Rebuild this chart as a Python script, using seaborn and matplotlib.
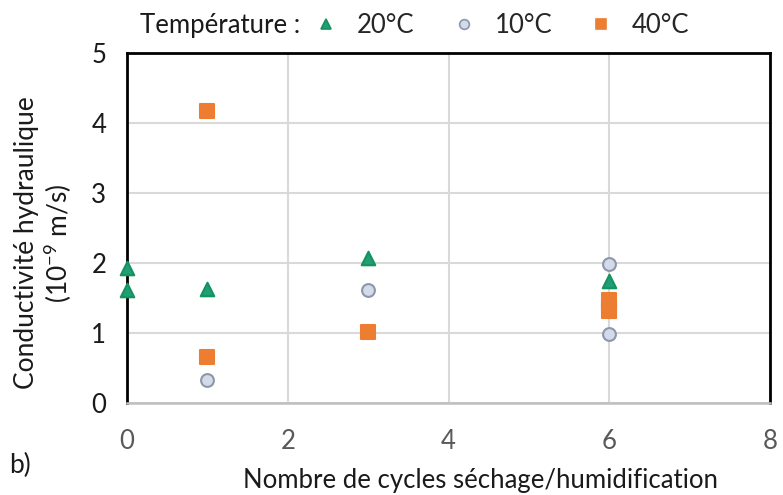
import pandas as pd
import matplotlib.pyplot as plt
import seaborn as sns
from matplotlib.lines import Line2D

# data
cycles_20 = [0, 0, 1, 3, 6]
k_20 = [1.93, 1.62, 1.63, 2.07, 1.74]
cycles_10 = [1, 3, 6, 6]
k_10 = [0.33, 1.61, 1.98, 0.98]
cycles_40 = [1, 1, 3, 6, 6, 6]
k_40 = [4.17, 0.65, 1.02, 1.47, 1.39, 1.31]

df = pd.concat([
    pd.DataFrame({"cycles": cycles_20, "k": k_20, "temp": "20°C"}),
    pd.DataFrame({"cycles": cycles_10, "k": k_10, "temp": "10°C"}),
    pd.DataFrame({"cycles": cycles_40, "k": k_40, "temp": "40°C"}),
])

sns.set_style("white")
plt.rcParams['font.family'] = ['Lato', 'DejaVu Sans']
plt.rcParams['mathtext.fontset'] = 'custom'
plt.rcParams['mathtext.rm'] = 'Lato'
plt.rcParams['mathtext.default'] = 'regular'

styles = {
    "20°C": dict(marker="^", color="#1F9E78", edgecolor="#16925F", s=95),
    "10°C": dict(marker="o", color="#D3DBEA", edgecolor="#8D97AB", s=85),
    "40°C": dict(marker="s", color="#ED7D31", edgecolor="#ED7D31", s=95),
}

fig = plt.figure(figsize=(7.83, 4.95), dpi=100)
ax = fig.add_axes([0.1622, 0.186, 0.8215, 0.707])

for t in ["10°C", "40°C", "20°C"]:
    st = styles[t]
    sns.scatterplot(data=df[df.temp == t], x="cycles", y="k", ax=ax,
                    marker=st["marker"], color=st["color"], edgecolor=st["edgecolor"],
                    linewidth=1.5, s=st["s"], zorder=3, clip_on=False, legend=False)

ax.set_xlim(0, 8)
ax.set_ylim(0, 5)
ax.set_xticks([0, 2, 4, 6, 8])
ax.set_yticks([0, 1, 2, 3, 4, 5])
ax.grid(True, color="#D9D9D9", linewidth=1.5)
ax.set_axisbelow(True)

for side in ["left", "top", "right"]:
    ax.spines[side].set_color("black")
    ax.spines[side].set_linewidth(2)
ax.spines["bottom"].set_color("#BFBFBF")
ax.spines["bottom"].set_linewidth(1.8)

ax.tick_params(axis="y", labelsize=18.5, labelcolor="#1a1a1a", pad=15, length=0)
ax.tick_params(axis="x", labelsize=18.5, labelcolor="#595959", pad=19, length=0)

ax.set_xlabel("Nombre de cycles séchage/humidification", fontsize=18.5, color="#1a1a1a")
ax.xaxis.set_label_coords(0.549, -0.185)
ax.xaxis.label.set_va("top")
ax.set_ylabel("Conductivité hydraulique\n(10$^{-9}$ m/s)", fontsize=19, color="#1a1a1a",
              linespacing=1.1)
ax.yaxis.set_label_coords(-0.083, 0.457)

fig.text(0.012, 0.045, "b)", fontsize=19, color="#1a1a1a")

fig.text(0.179, 0.948, "Température :", fontsize=18.5, color="#1a1a1a", va="center")
handles = []
labels = []
for t in ["20°C", "10°C", "40°C"]:
    st = styles[t]
    handles.append(Line2D([], [], linestyle="none", marker=st["marker"],
                          markerfacecolor=st["color"], markeredgecolor=st["edgecolor"],
                          markeredgewidth=1.2, markersize=7))
    labels.append(t)
fig.legend(handles, labels, loc="center left", bbox_to_anchor=(0.407, 0.948), ncol=3,
           frameon=False, fontsize=18.5, handlelength=0.6, handletextpad=0.9,
           columnspacing=1.6, borderpad=0, borderaxespad=0)

fig.savefig("out.png", dpi=100)
